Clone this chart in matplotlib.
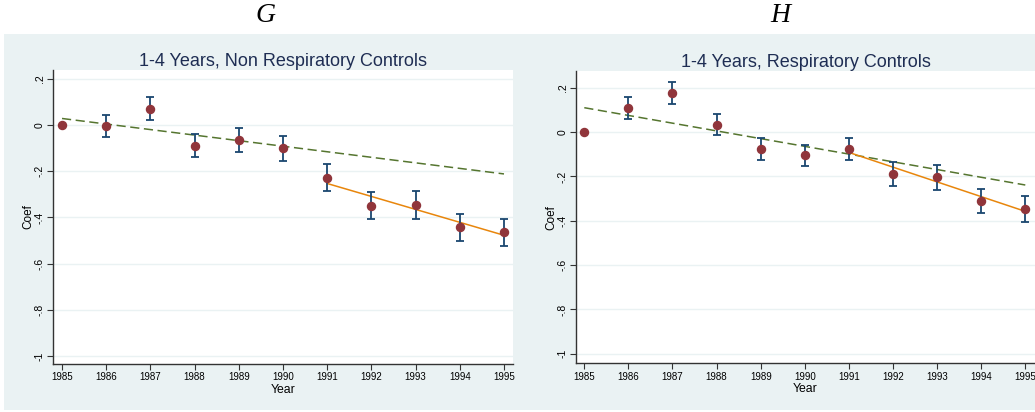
import numpy as np
import matplotlib
matplotlib.use("Agg")
import matplotlib.pyplot as plt
from matplotlib.patches import Rectangle

# ---------------- data ----------------
years = [1985, 1986, 1987, 1988, 1989, 1990, 1991, 1992, 1993, 1994, 1995]
break_year = 1991

coef_g = [0.0, -0.004, 0.070, -0.089, -0.063, -0.101, -0.228, -0.349, -0.345, -0.440, -0.463]
hi_g = [None, 0.042, 0.120, -0.040, -0.012, -0.048, -0.170, -0.291, -0.284, -0.384, -0.405]
lo_g = [None, -0.050, 0.022, -0.140, -0.117, -0.154, -0.287, -0.407, -0.405, -0.500, -0.524]

coef_h = [0.0, 0.110, 0.176, 0.033, -0.076, -0.104, -0.074, -0.188, -0.204, -0.311, -0.345]
hi_h = [None, 0.159, 0.227, 0.081, -0.025, -0.056, -0.025, -0.135, -0.150, -0.255, -0.290]
lo_h = [None, 0.061, 0.129, -0.015, -0.127, -0.153, -0.124, -0.241, -0.259, -0.366, -0.404]

titles = ["1-4 Years, Non Respiratory Controls", "1-4 Years, Respiratory Controls"]
panel_letters = ["G", "H"]
yticks = [0.2, 0.0, -0.2, -0.4, -0.6, -0.8, -1.0]
yticklabels = [".2", "0", "-.2", "-.4", "-.6", "-.8", "-1"]

# ---------------- style ----------------
W, H = 1035, 412
BG = "#EAF2F3"
GRID = "#EAF2F3"
MAROON = "#90353B"
NAVY = "#1A476F"
GREEN = "#55752F"
ORANGE = "#E8860C"
TITLE_C = "#1E2D53"
plt.rcParams["font.family"] = ["Liberation Sans", "DejaVu Sans"]

fig = plt.figure(figsize=(W / 100, H / 100), dpi=100)
fig.patch.set_facecolor("white")

def fx(px):
    return px / W

def fy(py):
    return 1 - py / H

# panel background
fig.patches.append(Rectangle((fx(4), fy(410)), fx(1035) - fx(4), fy(34) - fy(410),
                             transform=fig.transFigure, facecolor=BG, edgecolor="none", zorder=-10))

panels = [
    dict(coef=coef_g, lo=lo_g, hi=hi_g, box=(53, 513, 70, 364),
         xlim=(1984.796, 1995.204), ylim=(-1.035, 0.239), letter_x=265),
    dict(coef=coef_h, lo=lo_h, hi=hi_h, box=(576, 1035, 71, 363.3),
         xlim=(1984.812, 1995.22), ylim=(-1.043, 0.276), letter_x=780),
]

yrs = np.array(years, dtype=float)
for i, p in enumerate(panels):
    x0, x1, yt, yb = p["box"]
    ax = fig.add_axes([fx(x0), fy(yb), fx(x1) - fx(x0), fy(yt) - fy(yb)])
    ax.set_zorder(1)
    ax.set_facecolor("white")
    ax.set_xlim(*p["xlim"])
    ax.set_ylim(*p["ylim"])

    c = np.array(p["coef"], dtype=float)
    # error bars (skip reference year)
    for yr, cc, lo, hi in zip(years, p["coef"], p["lo"], p["hi"]):
        if lo is None:
            continue
        ax.errorbar([yr], [cc], yerr=[[cc - lo], [hi - cc]], fmt="none",
                    ecolor=NAVY, elinewidth=1.3, capsize=3, capthick=1.3, zorder=3)

    # linear trends: pre-period fitted and extrapolated, post-period fitted
    pre = yrs < break_year
    post = yrs >= break_year
    b_pre = np.polyfit(yrs[pre], c[pre], 1)
    b_post = np.polyfit(yrs[post], c[post], 1)
    xs_all = np.array([yrs.min(), yrs.max()])
    xs_post = np.array([yrs[post].min(), yrs[post].max()])
    ax.plot(xs_all, np.polyval(b_pre, xs_all), color=GREEN, lw=1.1,
            dashes=(6, 3), zorder=2)
    ax.plot(xs_post, np.polyval(b_post, xs_post), color=ORANGE, lw=1.1, zorder=2)

    ax.plot(years, p["coef"], "o", color=MAROON, markersize=5.8, zorder=4, clip_on=False)

    # axes styling
    for s in ["top", "right"]:
        ax.spines[s].set_visible(False)
    for s in ["left", "bottom"]:
        ax.spines[s].set_color("#333333")
        ax.spines[s].set_linewidth(1.0)
    ax.set_yticks(yticks)
    ax.set_yticklabels(yticklabels, rotation=90, va="center", fontsize=7.5)
    ax.set_xticks(years)
    ax.set_xticklabels([str(y) for y in years], fontsize=7)
    ax.tick_params(axis="both", length=4, width=0.8, color="#333333", pad=2)
    ax.yaxis.grid(True, color=GRID, lw=1.0)
    ax.set_axisbelow(True)
    ax.set_ylabel("Coef", fontsize=8.5, labelpad=0)
    ax.set_xlabel("Year", fontsize=8.8, labelpad=1)
    ax.set_title(titles[i], fontsize=13, color=TITLE_C, pad=3)

    fig.text(fx(p["letter_x"]), fy(16), panel_letters[i], ha="center", va="center",
             fontsize=20, style="italic", family=["Liberation Serif", "DejaVu Serif"])

fig.savefig("out.png", dpi=100, facecolor=fig.get_facecolor())
